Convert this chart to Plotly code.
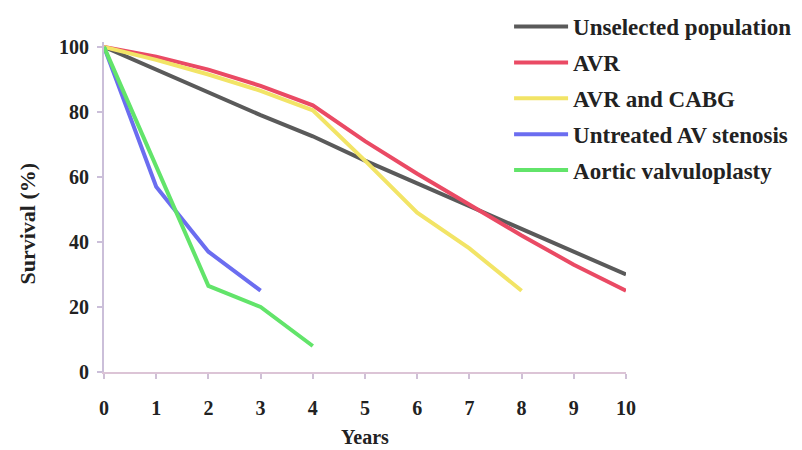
import plotly.graph_objects as go

years_long = [0, 1, 2, 3, 4, 5, 6, 7, 8, 9, 10]
unselected = [100, 93, 86, 79, 72.5, 65, 58, 51, 44, 37, 30]
avr = [100, 97, 93, 88, 82, 71, 61, 51.5, 42, 33, 25]
years_cabg = [0, 1, 2, 3, 4, 5, 6, 7, 8]
avr_cabg = [100, 96, 91.5, 86.5, 80.5, 65, 49, 38, 25]
years_untreated = [0, 1, 2, 3]
untreated = [100, 57, 37, 25]
years_valvulo = [0, 1, 2, 3, 4]
valvuloplasty = [100, 63, 26.5, 20, 8]

x_ticks = list(range(0, 11))
y_ticks = [0, 20, 40, 60, 80, 100]

series = [
    ("Unselected population", years_long, unselected, "#5a5a5a"),
    ("AVR", years_long, avr, "#ea4a64"),
    ("AVR and CABG", years_cabg, avr_cabg, "#f2e466"),
    ("Untreated AV stenosis", years_untreated, untreated, "#6b6df0"),
    ("Aortic valvuloplasty", years_valvulo, valvuloplasty, "#62e46a"),
]

font_family = "Liberation Serif, Times New Roman, serif"
txt = "#222222"

fig = go.Figure()
for i, (name, xs, ys, col) in enumerate(series):
    fig.add_trace(go.Scatter(
        x=xs, y=ys, mode="lines", name=name,
        line=dict(color=col, width=4),
        legendgroup=f"g{i}",
    ))

fig.update_layout(
    width=802, height=450,
    margin=dict(l=96, r=184, t=34, b=86, autoexpand=False),
    paper_bgcolor="white", plot_bgcolor="white",
    font=dict(family=font_family, color=txt, size=20, weight="bold"),
    showlegend=True,
    legend=dict(
        x=0.776, y=1.112, xanchor="left", yanchor="top",
        xref="paper", yref="paper",
        font=dict(size=23, family=font_family, color=txt, weight="bold"),
        bgcolor="rgba(0,0,0,0)",
        tracegroupgap=3,
        itemwidth=54,
    ),
    xaxis=dict(
        range=[0, 10], tickvals=x_ticks, ticktext=[str(v) for v in x_ticks],
        showgrid=False, zeroline=False, showline=True, automargin=False,
        linecolor="#dcc4d6", linewidth=2,
        ticks="outside", ticklen=5, tickcolor="#cfc0d6", tickwidth=2,
        ticklabelstandoff=12,
        tickfont=dict(size=20, family=font_family, color=txt, weight="bold"),
        title=dict(text="Years", standoff=12,
                   font=dict(size=20, family=font_family, color=txt, weight="bold")),
    ),
    yaxis=dict(
        range=[0, 101.5], tickvals=y_ticks, ticktext=[str(v) for v in y_ticks],
        showgrid=False, zeroline=False, showline=True, automargin=False,
        linecolor="#cbbfd9", linewidth=2,
        ticks="outside", ticklen=5, tickcolor="#cbbfd9", tickwidth=2,
        ticklabelstandoff=4,
        tickfont=dict(size=20, family=font_family, color=txt, weight="bold"),
    ),
    annotations=[dict(
        text="Survival (%)", textangle=-90, showarrow=False,
        xref="paper", yref="paper", x=-0.1456, y=0.45,
        xanchor="center", yanchor="middle",
        font=dict(size=22, family=font_family, color=txt, weight="bold"),
    )],
)

fig.write_html("out.html")
